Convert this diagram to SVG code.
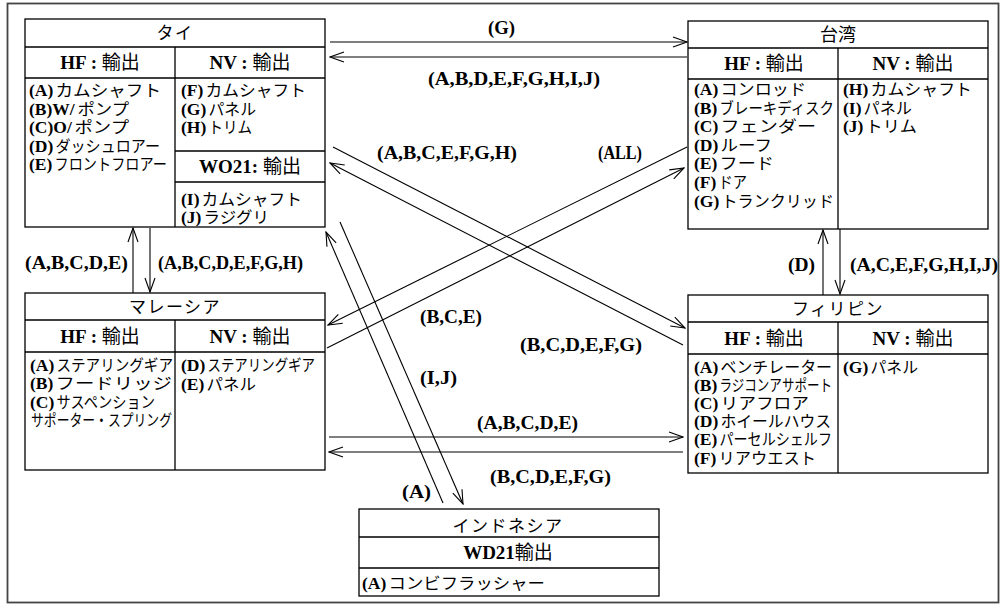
<svg xmlns="http://www.w3.org/2000/svg" width="1006" height="614" viewBox="0 0 1006 614">
<defs>
<style>
text{font-family:"Liberation Serif","Noto Sans CJK JP",serif;fill:#000}
.b{font-weight:bold}
.la{font-size:17.5px;font-weight:bold}
.jp{font-size:16px;font-family:"Liberation Serif","Noto Sans CJK JP",sans-serif}
.hd{font-size:19px}
.tt{font-size:17px;letter-spacing:1.5px;font-family:"Noto Sans CJK JP",sans-serif}
.lb{font-size:19px;font-weight:bold}
.box{fill:#fff;stroke:#000;stroke-width:1.3}
.sep{stroke:#000;stroke-width:1.3;fill:none}
.con{stroke:#000;stroke-width:1.1;fill:none}
.frame{fill:none;stroke:#444;stroke-width:1.8}
</style>
<marker id="ah" markerUnits="userSpaceOnUse" markerWidth="16" markerHeight="12" viewBox="0 0 16 12" refX="15" refY="6" orient="auto"><path d="M1,1 L15,6 L1,11" fill="none" stroke="#000" stroke-width="1.1"/></marker>
</defs>
<rect class="frame" x="7.5" y="3.5" width="991" height="599"/>

<g id="connectors">
<line class="con" x1="330" y1="42" x2="687" y2="42" marker-end="url(#ah)"/>
<line class="con" x1="687" y1="57" x2="330" y2="57" marker-end="url(#ah)"/>
<line class="con" x1="133" y1="293" x2="133" y2="228" marker-end="url(#ah)"/>
<line class="con" x1="150" y1="228" x2="150" y2="292" marker-end="url(#ah)"/>
<line class="con" x1="823" y1="295" x2="823" y2="230" marker-end="url(#ah)"/>
<line class="con" x1="840" y1="229" x2="840" y2="294" marker-end="url(#ah)"/>
<line class="con" x1="329" y1="437" x2="683" y2="437" marker-end="url(#ah)"/>
<line class="con" x1="683" y1="452" x2="329" y2="452" marker-end="url(#ah)"/>
<line class="con" x1="333" y1="147" x2="685" y2="328" marker-end="url(#ah)"/>
<line class="con" x1="683" y1="345" x2="330" y2="163" marker-end="url(#ah)"/>
<line class="con" x1="687" y1="147" x2="328" y2="325" marker-end="url(#ah)"/>
<line class="con" x1="327" y1="348" x2="684" y2="168" marker-end="url(#ah)"/>
<line class="con" x1="340" y1="222" x2="463" y2="504" marker-end="url(#ah)"/>
<line class="con" x1="443" y1="503" x2="326" y2="232" marker-end="url(#ah)"/>
<text class="lb" x="488" y="34" textLength="27" lengthAdjust="spacingAndGlyphs">(G)</text>
<text class="lb" x="428" y="85" textLength="172" lengthAdjust="spacingAndGlyphs">(A,B,D,E,F,G,H,I,J)</text>
<text class="lb" x="377" y="159" textLength="140" lengthAdjust="spacingAndGlyphs">(A,B,C,E,F,G,H)</text>
<text class="lb" x="598" y="159" textLength="44" lengthAdjust="spacingAndGlyphs">(ALL)</text>
<text class="lb" x="25" y="269" textLength="103" lengthAdjust="spacingAndGlyphs">(A,B,C,D,E)</text>
<text class="lb" x="158" y="269" textLength="145" lengthAdjust="spacingAndGlyphs">(A,B,C,D,E,F,G,H)</text>
<text class="lb" x="788" y="271" textLength="27" lengthAdjust="spacingAndGlyphs">(D)</text>
<text class="lb" x="850" y="271" textLength="148" lengthAdjust="spacingAndGlyphs">(A,C,E,F,G,H,I,J)</text>
<text class="lb" x="420" y="323" textLength="62" lengthAdjust="spacingAndGlyphs">(B,C,E)</text>
<text class="lb" x="520" y="351" textLength="122" lengthAdjust="spacingAndGlyphs">(B,C,D,E,F,G)</text>
<text class="lb" x="420" y="384" textLength="37" lengthAdjust="spacingAndGlyphs">(I,J)</text>
<text class="lb" x="477" y="429" textLength="101" lengthAdjust="spacingAndGlyphs">(A,B,C,D,E)</text>
<text class="lb" x="490" y="483" textLength="121" lengthAdjust="spacingAndGlyphs">(B,C,D,E,F,G)</text>
<text class="lb" x="402" y="498" textLength="29" lengthAdjust="spacingAndGlyphs">(A)</text>
</g>

<g id="thai">
<rect class="box" x="25" y="19" width="300" height="208"/>
<path class="sep" d="M25,47H325M25,78H325M175,47V227M175,151H325M175,182H325"/>
<text class="tt" x="175" y="39" text-anchor="middle">タイ</text>
<text class="hd" x="100" y="69" text-anchor="middle"><tspan class="b">HF :</tspan> 輸出</text>
<text class="hd" x="250" y="69" text-anchor="middle"><tspan class="b">NV :</tspan> 輸出</text>
<text class="hd" x="250" y="173" text-anchor="middle"><tspan class="b">WO21:</tspan> 輸出</text>
<text class="la" x="29" y="96">(A)</text><text class="jp" x="55.5" y="96" textLength="105.5" lengthAdjust="spacingAndGlyphs">カムシャフト</text>
<text class="la" x="29" y="114.5">(B)W/</text><text class="jp" x="77.5" y="114.5" textLength="51.5" lengthAdjust="spacingAndGlyphs">ポンプ</text>
<text class="la" x="29" y="133">(C)O/</text><text class="jp" x="74.5" y="133" textLength="54.5" lengthAdjust="spacingAndGlyphs">ポンプ</text>
<text class="la" x="29" y="151.5">(D)</text><text class="jp" x="55.5" y="151.5" textLength="104.5" lengthAdjust="spacingAndGlyphs">ダッシュロアー</text>
<text class="la" x="29" y="170">(E)</text><text class="jp" x="54.5" y="170" textLength="112.5" lengthAdjust="spacingAndGlyphs">フロントフロアー</text>
<text class="la" x="181" y="96">(F)</text><text class="jp" x="205.5" y="96" textLength="100.5" lengthAdjust="spacingAndGlyphs">カムシャフト</text>
<text class="la" x="181" y="114.5">(G)</text><text class="jp" x="208.5" y="114.5" textLength="47.5" lengthAdjust="spacingAndGlyphs">パネル</text>
<text class="la" x="181" y="133">(H)</text><text class="jp" x="208.5" y="133" textLength="43.5" lengthAdjust="spacingAndGlyphs">トリム</text>
<text class="la" x="181" y="205">(I)</text><text class="jp" x="201.5" y="205" textLength="100.5" lengthAdjust="spacingAndGlyphs">カムシャフト</text>
<text class="la" x="181" y="223">(J)</text><text class="jp" x="203.5" y="223" textLength="65.5" lengthAdjust="spacingAndGlyphs">ラジグリ</text>
</g>

<g id="taiwan">
<rect class="box" x="688" y="21" width="300" height="208"/>
<path class="sep" d="M688,48H988M688,79H988M838,48V229"/>
<text class="tt" x="838" y="41" text-anchor="middle" style="font-size:18px;letter-spacing:0">台湾</text>
<text class="hd" x="764" y="70" text-anchor="middle"><tspan class="b">HF :</tspan> 輸出</text>
<text class="hd" x="913" y="70" text-anchor="middle"><tspan class="b">NV :</tspan> 輸出</text>
<text class="la" x="694" y="95">(A)</text><text class="jp" x="720.5" y="95" textLength="85.5" lengthAdjust="spacingAndGlyphs">コンロッド</text>
<text class="la" x="694" y="113.6">(B)</text><text class="jp" x="719.5" y="113.6" textLength="114.5" lengthAdjust="spacingAndGlyphs">ブレーキディスク</text>
<text class="la" x="694" y="132.2">(C)</text><text class="jp" x="720.5" y="132.2" textLength="95.5" lengthAdjust="spacingAndGlyphs">フェンダー</text>
<text class="la" x="694" y="150.8">(D)</text><text class="jp" x="720.5" y="150.8" textLength="51.5" lengthAdjust="spacingAndGlyphs">ルーフ</text>
<text class="la" x="694" y="169.4">(E)</text><text class="jp" x="719.5" y="169.4" textLength="54.5" lengthAdjust="spacingAndGlyphs">フード</text>
<text class="la" x="694" y="188">(F)</text><text class="jp" x="718.5" y="188" textLength="28.5" lengthAdjust="spacingAndGlyphs">ドア</text>
<text class="la" x="694" y="206.6">(G)</text><text class="jp" x="721.5" y="206.6" textLength="112.5" lengthAdjust="spacingAndGlyphs">トランクリッド</text>
<text class="la" x="843" y="95">(H)</text><text class="jp" x="870.5" y="95" textLength="101.5" lengthAdjust="spacingAndGlyphs">カムシャフト</text>
<text class="la" x="843" y="113.6">(I)</text><text class="jp" x="863.5" y="113.6" textLength="48.5" lengthAdjust="spacingAndGlyphs">パネル</text>
<text class="la" x="843" y="132.2">(J)</text><text class="jp" x="865.5" y="132.2" textLength="51.5" lengthAdjust="spacingAndGlyphs">トリム</text>
</g>

<g id="malaysia">
<rect class="box" x="25" y="293" width="300" height="177"/>
<path class="sep" d="M25,320H325M25,352H325M175,320V470"/>
<text class="tt" x="175" y="313" text-anchor="middle">マレーシア</text>
<text class="hd" x="100" y="342.5" text-anchor="middle"><tspan class="b">HF :</tspan> 輸出</text>
<text class="hd" x="250" y="342.5" text-anchor="middle"><tspan class="b">NV :</tspan> 輸出</text>
<text class="la" x="30" y="371">(A)</text><text class="jp" x="56.5" y="371" textLength="116.5" lengthAdjust="spacingAndGlyphs">ステアリングギア</text>
<text class="la" x="30" y="389">(B)</text><text class="jp" x="55.5" y="389" textLength="116.5" lengthAdjust="spacingAndGlyphs">フードリッジ</text>
<text class="la" x="30" y="408">(C)</text><text class="jp" x="56.5" y="408" textLength="98.5" lengthAdjust="spacingAndGlyphs">サスペンション</text>
<text class="jp" x="31" y="426" textLength="141" lengthAdjust="spacingAndGlyphs">サポーター・スプリング</text>
<text class="la" x="181" y="371">(D)</text><text class="jp" x="207.5" y="371" textLength="107.5" lengthAdjust="spacingAndGlyphs">ステアリングギア</text>
<text class="la" x="181" y="389.5">(E)</text><text class="jp" x="206.5" y="389.5" textLength="49.5" lengthAdjust="spacingAndGlyphs">パネル</text>
</g>

<g id="philippines">
<rect class="box" x="688" y="295" width="300" height="178"/>
<path class="sep" d="M688,322H988M688,354H988M838,322V473"/>
<text class="tt" x="838" y="315" text-anchor="middle">フィリピン</text>
<text class="hd" x="764" y="344.5" text-anchor="middle"><tspan class="b">HF :</tspan> 輸出</text>
<text class="hd" x="913" y="344.5" text-anchor="middle"><tspan class="b">NV :</tspan> 輸出</text>
<text class="la" x="694" y="372.5">(A)</text><text class="jp" x="720.5" y="372.5" textLength="111.5" lengthAdjust="spacingAndGlyphs">ベンチレーター</text>
<text class="la" x="694" y="391">(B)</text><text class="jp" x="719.5" y="391" textLength="112.5" lengthAdjust="spacingAndGlyphs">ラジコンアサポート</text>
<text class="la" x="694" y="409">(C)</text><text class="jp" x="720.5" y="409" textLength="88.5" lengthAdjust="spacingAndGlyphs">リアフロア</text>
<text class="la" x="694" y="427">(D)</text><text class="jp" x="720.5" y="427" textLength="110.5" lengthAdjust="spacingAndGlyphs">ホイールハウス</text>
<text class="la" x="694" y="445">(E)</text><text class="jp" x="719.5" y="445" textLength="112.5" lengthAdjust="spacingAndGlyphs">パーセルシェルフ</text>
<text class="la" x="694" y="463.5">(F)</text><text class="jp" x="718.5" y="463.5" textLength="97.5" lengthAdjust="spacingAndGlyphs">リアウエスト</text>
<text class="la" x="843" y="372.5">(G)</text><text class="jp" x="870.5" y="372.5" textLength="47.5" lengthAdjust="spacingAndGlyphs">パネル</text>
</g>

<g id="indonesia">
<rect class="box" x="359" y="509" width="300" height="87"/>
<path class="sep" d="M359,537H659M359,568H659"/>
<text class="tt" x="508" y="532" text-anchor="middle">インドネシア</text>
<text class="hd" x="508" y="559" text-anchor="middle"><tspan class="b">WD21</tspan>輸出</text>
<text class="la" x="362" y="589">(A)</text><text class="jp" x="388.5" y="589" textLength="156.5" lengthAdjust="spacingAndGlyphs">コンビフラッシャー</text>
</g>
</svg>
